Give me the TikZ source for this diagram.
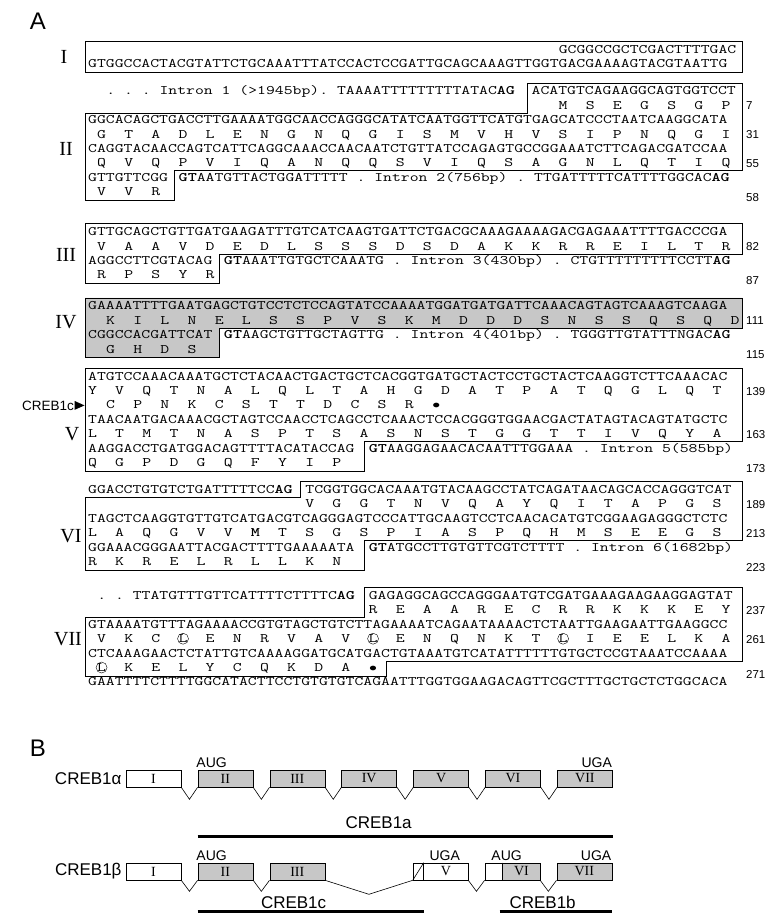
\documentclass[tikz,border=0pt]{standalone}
\usepackage{fontspec}
\setmainfont{Liberation Serif}
\setsansfont{Liberation Sans}
\usepackage{graphicx}
\usetikzlibrary{positioning, calc, backgrounds}

\newcommand\sq[1]{\scalebox{1.326}[1]{#1}}
\newcommand\cx[1]{88+(#1-1)*9.05}
\newcommand\cc[1]{88+(#1-0.5)*9.05}

\begin{document}
\begin{tikzpicture}[x=1pt, y=-1pt,
    node distance=16.3pt,
    seq/.style={font=\ttfamily\fontsize{13}{13}\selectfont\frenchspacing, inner sep=0pt, anchor=base west, yshift=-3.5pt},
    aa/.style={seq, anchor=base},
    num/.style={font=\sffamily\fontsize{11.5}{11.5}\selectfont, inner sep=0pt, anchor=base west, yshift=-4pt},
    exon/.style={font=\fontsize{20}{20}\selectfont, inner sep=0pt},
    panel/.style={font=\sffamily\fontsize{24}{24}\selectfont, inner sep=0pt},
    seqbox/.style={draw, line width=0.6pt},
    exbox/.style={draw, line width=0.6pt, minimum width=55pt, minimum height=17pt, inner sep=0pt, font=\fontsize{14}{14}\selectfont},
    coded/.style={exbox, fill=black!22},
    codon/.style={font=\sffamily\fontsize{14}{14}\selectfont, inner sep=0pt, anchor=south},
    iso/.style={font=\sffamily\fontsize{17}{17}\selectfont, inner sep=0pt},
    bar/.style={line width=2.5pt}
]
\useasboundingbox (0,0) rectangle (768,918);

\node[panel] (A) at (38,21) {A};

% exon I
\draw[seqbox] (85,41) rectangle (742.6,72.4);
\node[exon] (eI) at (64,57.2) {I};
\node[seq] (s1) at ({\cx{53}},50) {\sq{GCGGCCGCTCGACTTTTGAC}};
\node[seq] (s2) at ({\cx{1}},64.4) {\sq{GTGGCCACTACGTATTCTGCAAATTTATCCACTCCGATTGCAGCAAAGTTGGTGACGAAAAGTACGTAATTG}};

% exon II
\draw[seqbox] ({\cc{49}},82.9) -- (742.6,82.9) -- (742.6,170.6) -- ({\cc{10}},170.6) -- ({\cc{10}},200.2) -- (85,200.2) -- (85,113) -- ({\cc{49}},113) -- cycle;
\node[exon] (eII) at (66,149) {II};
\node[seq] (s3a) at ({\cx{3}},91.4) {\sq{. . . Intron 1 (>1945bp). TAAAATTTTTTTTTATAC\textbf{AG}}};
\node[seq] (s3b) at ({\cx{50}},91.4) {\sq{ACATGTCAGAAGGCAGTGGTCCT}};
\foreach \a [count=\i] in {M,S,E,G,S,G,P}
  \node[aa] (p4-\i) at ({\cc{50+3*\i}},105.8) {\sq{\a}};
\node[seq] (s5) at ({\cx{1}},120.2) {\sq{GGCACAGCTGACCTTGAAAATGGCAACCAGGGCATATCAATGGTTCATGTGAGCATCCCTAATCAAGGCATA}};
\foreach \a [count=\i] in {G,T,A,D,L,E,N,G,N,Q,G,I,S,M,V,H,V,S,I,P,N,Q,G,I}
  \node[aa] (p6-\i) at ({\cc{3*\i-1}},134.6) {\sq{\a}};
\node[seq] (s7) at ({\cx{1}},149) {\sq{CAGGTACAACCAGTCATTCAGGCAAACCAACAATCTGTTATCCAGAGTGCCGGAAATCTTCAGACGATCCAA}};
\foreach \a [count=\i] in {Q,V,Q,P,V,I,Q,A,N,Q,Q,S,V,I,Q,S,A,G,N,L,Q,T,I,Q}
  \node[aa] (p8-\i) at ({\cc{3*\i-1}},163.4) {\sq{\a}};
\node[seq] (s9a) at ({\cx{1}},177.8) {\sq{GTTGTTCGG}};
\node[seq] (s9b) at ({\cx{11}},177.8) {\sq{\textbf{GT}AATGTTACTGGATTTTT . Intron 2(756bp) . TTGATTTTTCATTTTGGCAC\textbf{AG}}};
\foreach \a [count=\i] in {V,V,R}
  \node[aa] (p10-\i) at ({\cc{3*\i-1}},192.2) {\sq{\a}};
\node[num] (n7) at (746,105.8) {7};
\node[num] (n31) at (746,134.6) {31};
\node[num] (n55) at (746,163.4) {55};
\node[num] (n58) at (746,197.2) {58};

% exon III
\draw[seqbox] (85,223.7) -- (742.6,223.7) -- (742.6,253.8) -- ({\cc{15}},253.8) -- ({\cc{15}},283.4) -- (85,283.4) -- cycle;
\node[exon] (eIII) at (66,255) {III};
\node[seq] (s11) at ({\cx{1}},232.2) {\sq{GTTGCAGCTGTTGATGAAGATTTGTCATCAAGTGATTCTGACGCAAAGAAAAGACGAGAAATTTTGACCCGA}};
\foreach \a [count=\i] in {V,A,A,V,D,E,D,L,S,S,S,D,S,D,A,K,K,R,R,E,I,L,T,R}
  \node[aa] (p12-\i) at ({\cc{3*\i-1}},246.6) {\sq{\a}};
\node[seq] (s13a) at ({\cx{1}},261) {\sq{AGGCCTTCGTACAG}};
\node[seq] (s13b) at ({\cx{16}},261) {\sq{\textbf{GT}AAATTGTGCTCAAATG . Intron 3(430bp) . CTGTTTTTTTTTCCTT\textbf{AG}}};
\foreach \a [count=\i] in {R,P,S,Y,R}
  \node[aa] (p14-\i) at ({\cc{3*\i-1}},275.4) {\sq{\a}};
\node[num] (n82) at (746,246.6) {82};
\node[num] (n87) at (746,280.4) {87};

% exon IV
\draw[seqbox, fill=black!22] (85,297.9) -- (742.6,297.9) -- (742.6,328) -- ({\cc{15}},328) -- ({\cc{15}},357.6) -- (85,357.6) -- cycle;
\node[exon] (eIV) at (66,322) {IV};
\node[seq] (s15) at ({\cx{1}},306.4) {\sq{GAAAATTTTGAATGAGCTGTCCTCTCCAGTATCCAAAATGGATGATGATTCAAACAGTAGTCAAAGTCAAGA}};
\foreach \a [count=\i] in {K,I,L,N,E,L,S,S,P,V,S,K,M,D,D,D,S,N,S,S,Q,S,Q,D}
  \node[aa] (p16-\i) at ({\cc{3*\i}},320.8) {\sq{\a}};
\node[seq] (s17a) at ({\cx{1}},335.2) {\sq{CGGCCACGATTCAT}};
\node[seq] (s17b) at ({\cx{16}},335.2) {\sq{\textbf{GT}AAGCTGTTGCTAGTTG . Intron 4(401bp) . TGGGTTGTATTTNGAC\textbf{AG}}};
\foreach \a [count=\i] in {G,H,D,S}
  \node[aa] (p18-\i) at ({\cc{3*\i}},349.6) {\sq{\a}};
\node[num] (n111) at (746,320.8) {111};
\node[num] (n115) at (746,354.6) {115};

% exon V
\draw[seqbox] (85,368.1) -- (742.6,368.1) -- (742.6,441.4) -- ({\cc{31}},441.4) -- ({\cc{31}},471) -- (85,471) -- cycle;
\node[exon] (eV) at (72,434.2) {V};
\node[seq] (s19) at ({\cx{1}},376.6) {\sq{ATGTCCAAACAAATGCTCTACAACTGACTGCTCACGGTGATGCTACTCCTGCTACTCAAGGTCTTCAAACAC}};
\foreach \a [count=\i] in {Y,V,Q,T,N,A,L,Q,L,T,A,H,G,D,A,T,P,A,T,Q,G,L,Q,T}
  \node[aa] (p20-\i) at ({\cc{3*\i-2}},391) {\sq{\a}};
\foreach \a [count=\i] in {C,P,N,K,C,S,T,T,D,C,S,R,$\bullet$}
  \node[aa] (p21-\i) at ({\cc{3*\i}},405.4) {\sq{\a}};
\node[seq] (s22) at ({\cx{1}},419.8) {\sq{TAACAATGACAAACGCTAGTCCAACCTCAGCCTCAAACTCCACGGGTGGAACGACTATAGTACAGTATGCTC}};
\foreach \a [count=\i] in {L,T,M,T,N,A,S,P,T,S,A,S,N,S,T,G,G,T,T,I,V,Q,Y,A}
  \node[aa] (p23-\i) at ({\cc{3*\i-2}},434.2) {\sq{\a}};
\node[seq] (s24a) at ({\cx{1}},448.6) {\sq{AAGGACCTGATGGACAGTTTTACATACCAG}};
\node[seq] (s24b) at ({\cx{32}},448.6) {\sq{\textbf{GT}AAGGAGAACACAATTTGGAAA . Intron 5(585bp)}};
\foreach \a [count=\i] in {Q,G,P,D,G,Q,F,Y,I,P}
  \node[aa] (p25-\i) at ({\cc{3*\i-2}},463) {\sq{\a}};
\node[num] (n139) at (746,391) {139};
\node[num] (n163) at (746,434.2) {163};
\node[num] (n173) at (746,468) {173};
\node[font=\sffamily\fontsize{13.5}{13.5}\selectfont, inner sep=0pt, anchor=east] (c1c) at (74,405.4) {CREB1c};
\fill (c1c.east) ++(0.5,-4.5) -- ++(10,4.5) -- ++(-10,4.5) -- cycle;

% exon VI
\draw[seqbox] ({\cc{24}},481.5) -- (742.6,481.5) -- (742.6,540.4) -- ({\cc{31}},540.4) -- ({\cc{31}},570) -- (85,570) -- (85,497.2) -- ({\cc{24}},497.2) -- cycle;
\node[exon] (eVI) at (71,536) {VI};
\node[seq] (s26a) at ({\cx{1}},490) {\sq{GGACCTGTGTCTGATTTTTCC\textbf{AG}}};
\node[seq] (s26b) at ({\cx{25}},490) {\sq{TCGGTGGCACAAATGTACAAGCCTATCAGATAACAGCACCAGGGTCAT}};
\foreach \a [count=\i] in {V,G,G,T,N,V,Q,A,Y,Q,I,T,A,P,G,S}
  \node[aa] (p27-\i) at ({\cc{22+3*\i}},504.4) {\sq{\a}};
\node[seq] (s28) at ({\cx{1}},518.8) {\sq{TAGCTCAAGGTGTTGTCATGACGTCAGGGAGTCCCATTGCAAGTCCTCAACACATGTCGGAAGAGGGCTCTC}};
\foreach \a [count=\i] in {L,A,Q,G,V,V,\textbf{M},T,S,G,S,P,I,A,S,P,Q,H,M,S,E,E,G,S}
  \node[aa] (p29-\i) at ({\cc{3*\i-2}},533.2) {\sq{\a}};
\node[seq] (s30a) at ({\cx{1}},547.6) {\sq{GGAAACGGGAATTACGACTTTTGAAAAATA}};
\node[seq] (s30b) at ({\cx{32}},547.6) {\sq{\textbf{GT}ATGCCTTGTGTTCGTCTTTT . Intron 6(1682bp)}};
\foreach \a [count=\i] in {R,K,R,E,L,R,L,L,K,N}
  \node[aa] (p31-\i) at ({\cc{3*\i-2}},562) {\sq{\a}};
\node[num] (n189) at (746,504.4) {189};
\node[num] (n213) at (746,533.2) {213};
\node[num] (n223) at (746,567) {223};

% exon VII
\draw[seqbox] ({\cc{31}},587.5) -- (742.6,587.5) -- (742.6,660.8) -- ({\cx{34}},660.8) -- ({\cx{34}},676) -- (85,676) -- (85,617.6) -- ({\cc{31}},617.6) -- cycle;
\node[exon] (eVII) at (68,639.2) {VII};
\node[seq] (s32a) at ({\cx{2}},596) {\sq{. . TTATGTTTGTTCATTTTCTTTTC\textbf{AG}}};
\node[seq] (s32b) at ({\cx{32}},596) {\sq{GAGAGGCAGCCAGGGAATGTCGATGAAAGAAGAAGGAGTAT}};
\foreach \a [count=\i] in {R,E,A,A,R,E,C,R,R,K,K,K,E,Y}
  \node[aa] (p33-\i) at ({\cc{29+3*\i}},610.4) {\sq{\a}};
\node[seq] (s34) at ({\cx{1}},624.8) {\sq{GTAAAATGTTTAGAAAACCGTGTAGCTGTCTTAGAAAATCAGAATAAAACTCTAATTGAAGAATTGAAGGCC}};
\foreach \a [count=\i] in {V,K,C,L,E,N,R,V,A,V,L,E,N,Q,N,K,T,L,I,E,E,L,K,A}
  \node[aa] (p35-\i) at ({\cc{3*\i-1}},639.2) {\sq{\a}};
\node[seq] (s36) at ({\cx{1}},653.6) {\sq{CTCAAAGAACTCTATTGTCAAAAGGATGCATGACTGTAAATGTCATATTTTTTGTGCTCCGTAAATCCAAAA}};
\foreach \a [count=\i] in {L,K,E,L,Y,C,Q,K,D,A,$\bullet$}
  \node[aa] (p37-\i) at ({\cc{3*\i-1}},668) {\sq{\a}};
\node[seq] (s38) at ({\cx{1}},682.4) {\sq{GAATTTTCTTTTGGCATACTTCCTGTGTGTCAGAATTTGGTGGAAGACAGTTCGCTTTGCTGCTCTGGCACA}};
\foreach \k in {4,11,18}
  \draw (p35-\k) circle (5.5pt);
\draw (p37-1) circle (5.5pt);
\node[num] (n237) at (746,610.4) {237};
\node[num] (n261) at (746,639.2) {261};
\node[num] (n271) at (746,674) {271};

% panel B
\node[panel] (B) at (38,748) {B};
\node[exbox] (a1) at (153.5,778.5) {I};
\node[coded, right=of a1] (a2) {II};
\node[coded, right=of a2] (a3) {III};
\node[coded, right=of a3] (a4) {IV};
\node[coded, right=of a4] (a5) {V};
\node[coded, right=of a5] (a6) {VI};
\node[coded, right=of a6] (a7) {VII};
\node[iso, left=4pt of a1] (alpha) {CREB1α};
\foreach \p/\q in {a1/a2,a2/a3,a3/a4,a4/a5,a5/a6,a6/a7}
  \draw[line width=0.6pt] (\p.south east) -- ($(\p.south east)!.5!(\q.south west)+(0,12)$) -- (\q.south west);
\node[codon] (augA) at ($(a2.north west)+(14,-2)$) {AUG};
\node[codon] (ugaA) at ($(a7.north east)+(-16,-2)$) {UGA};
\node[iso] (isoA) at ($(a2.south west)+(181,35)$) {CREB1a};
\draw[bar] ($(a2.south west)+(0,49)$) -- ($(a7.south east)+(0,49)$);

\node[exbox] (b1) at (153.5,871.5) {I};
\node[coded, right=of b1] (b2) {II};
\node[coded, right=of b2] (b3) {III};
\node[exbox, right=87.6pt of b3] (b5) {\hspace{11pt}V};
\node[exbox, right=of b5] (b6) {\hspace{18pt}VI};
\node[coded, right=of b6] (b7) {VII};
\node[iso, left=4pt of b1] (beta) {CREB1β};
\begin{scope}[on background layer]
  \fill[black!22] ($(b6.north west)+(18,0)$) rectangle (b6.south east);
\end{scope}
\draw[line width=0.6pt] ($(b6.north west)+(18,0)$) -- ($(b6.south west)+(18,0)$);
\draw[line width=0.6pt] ($(b5.north west)+(11,0)$) -- ($(b5.south west)+(11,0)$);
\draw[line width=0.6pt] (b5.south west) -- ($(b5.north west)+(11,0)$);
\foreach \p/\q in {b1/b2,b2/b3,b5/b6,b6/b7}
  \draw[line width=0.6pt] (\p.south east) -- ($(\p.south east)!.5!(\q.south west)+(0,11)$) -- (\q.south west);
\draw[line width=0.6pt] (b3.south east) -- ($(b3.south east)!.5!(b5.south west)+(0,14)$) -- (b5.south west);
\node[codon] (augB1) at ($(b2.north west)+(14,-2)$) {AUG};
\node[codon] (ugaB1) at ($(b5.north west)+(32,-2)$) {UGA};
\node[codon] (augB2) at ($(b6.north west)+(22,-2)$) {AUG};
\node[codon] (ugaB2) at ($(b7.north east)+(-16,-2)$) {UGA};
\node[iso] (isoC) at ($(b2.south west)+(96,22)$) {CREB1c};
\draw[bar] ($(b2.south west)+(0,31)$) -- ($(b5.south west)+(11,31)$);
\node[iso] (isoB) at ($(b6.south west)+(58,22)$) {CREB1b};
\draw[bar] ($(b6.south west)+(15,31)$) -- ($(b7.south east)+(0,31)$);
\end{tikzpicture}
\end{document}
